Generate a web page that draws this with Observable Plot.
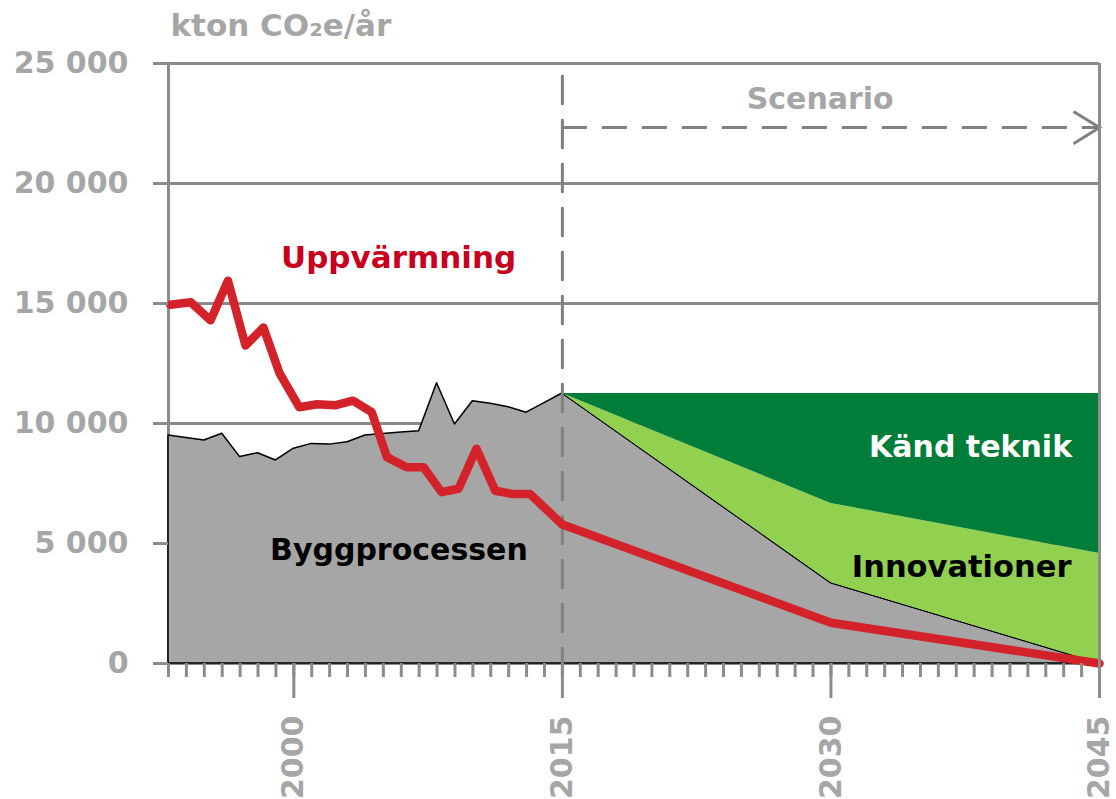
<!DOCTYPE html>
<html><head><meta charset="utf-8">
<script src="https://cdn.jsdelivr.net/npm/d3@7"></script>
<script src="https://cdn.jsdelivr.net/npm/@observablehq/plot@0.6"></script>
<style>
body{margin:0;background:#fff;}
#chart{width:1116px;height:799px;}
</style>
</head><body><div id="chart"></div>
<script>
// ---- data ----
const histYears = [1993,1994,1995,1996,1997,1998,1999,2000,2001,2002,2003,2004,2005,2006,2007,2008,2009,2010,2011,2012,2013,2014,2015];
const byggHist  = [9500,9400,9290,9570,8600,8760,8460,8950,9150,9120,9220,9500,9560,9620,9680,11680,9960,10930,10820,10680,10450,10850,11250];
const scenYears = [2015,2030,2045];
const byggScen  = [11250,3350,0];
const innovTop  = [11250,6670,4580];
const kandTop   = [11250,11250,11250];
const heatYears  = [1993.1,1994.25,1995.35,1996.32,1997.3,1998.3,1999.2,2000.3,2001.3,2002.3,2003.3,2004.35,2005.2,2006.3,2007.25,2008.25,2009.2,2010.2,2011.25,2012.25,2013.2,2015,2030,2045];
const heatValues = [14950,15050,14300,15950,13250,14000,12100,10680,10800,10760,10950,10470,8600,8180,8180,7140,7280,8950,7200,7060,7060,5790,1700,0];
const yTicks = [0,5000,10000,15000,20000,25000];
const yTickLabels = ["0","5 000","10 000","15 000","20 000","25 000"];
const xTicks = [2000,2015,2030,2045];
const xTickLabels = ["2000","2015","2030","2045"];
const minorYears = [1993,1994,1995,1996,1997,1998,1999,2000,2001,2002,2003,2004,2005,2006,2007,2008,2009,2010,2011,2012,2013,2014,2015,2016,2017,2018,2019,2020,2021,2022,2023,2024,2025,2026,2027,2028,2029,2030,2031,2032,2033,2034,2035,2036,2037,2038,2039,2040,2041,2042,2043,2044,2045];
const unitLabel = "kton CO₂e/år";
const scenarioStart = 2015, scenarioEnd = 2045, scenarioArrowY = 22330, dashTop = 24500;
const labels = [
  {text: "Uppvärmning", x: 2005.85, y: 16900, color: "#c8001e", size: 31},
  {text: "Byggprocessen", x: 2005.87, y: 4700, color: "#000000", size: 30},
  {text: "Känd teknik", x: 2037.8, y: 9000, color: "#ffffff", size: 30},
  {text: "Innovationer", x: 2037.3, y: 4000, color: "#000000", size: 30.5},
  {text: "Scenario", x: 2029.4, y: 23500, color: "#a6a6a6", size: 30}
];

// ---- tables ----
const byggRows = histYears.map((year, i) => ({year, value: byggHist[i]}))
  .concat(scenYears.slice(1).map((year, i) => ({year, value: byggScen[i + 1]})));
const scenRows = scenYears.map((year, i) => ({year, bygg: byggScen[i], innov: innovTop[i], kand: kandTop[i]}));
const heatRows = heatYears.map((year, i) => ({year, value: heatValues[i]}));
const yLab = new Map(yTicks.map((t, i) => [t, yTickLabels[i]]));
const xLab = new Map(xTicks.map((t, i) => [t, xTickLabels[i]]));

const gridColor = "#8a8a8a", axisColor = "#8c8c8c", dashColor = "#808080", labelColor = "#a6a6a6";
const font = "DejaVu Sans";

// open chevron ">" whose tip sits at the dot position
const chevron = {
  draw(context, size) {
    const s = Math.sqrt(size);
    context.moveTo(-s, -s * 0.62);
    context.lineTo(0, 0);
    context.lineTo(-s, s * 0.62);
  }
};

const chart = Plot.plot({
  width: 1116, height: 799,
  marginLeft: 168, marginRight: 17, marginTop: 63, marginBottom: 136,
  style: {fontFamily: font, background: "#ffffff"},
  x: {domain: [1993, 2045]},
  y: {domain: [0, 25000]},
  marks: [
    Plot.ruleY(yTicks, {stroke: gridColor, strokeWidth: 3}),
    Plot.ruleX([1993], {stroke: axisColor, strokeWidth: 3}),
    Plot.areaY(byggRows, {x: "year", y: "value", fill: "#a6a6a6", stroke: "#000", strokeWidth: 1.5}),
    Plot.areaY(scenRows, {x: "year", y1: "bygg", y2: "innov", fill: "#92d050"}),
    Plot.areaY(scenRows, {x: "year", y1: "innov", y2: "kand", fill: "#007e39"}),
    Plot.lineY(scenRows, {x: "year", y: "bygg", stroke: "#000", strokeWidth: 1}),
    Plot.ruleX([scenarioStart], {y1: dashTop, y2: 0, stroke: dashColor, strokeWidth: 3, strokeDasharray: "30,14"}),
    Plot.ruleY([scenarioArrowY], {x1: scenarioStart, x2: scenarioEnd - 0.1, stroke: dashColor, strokeWidth: 3, strokeDasharray: "25,15"}),
    Plot.dot([0], {x: () => scenarioEnd, y: () => scenarioArrowY, symbol: chevron, r: 14.7, fill: "none", stroke: dashColor, strokeWidth: 3, strokeLinejoin: "miter"}),
    Plot.line(heatRows, {x: "year", y: "value", stroke: "#d3222a", strokeWidth: 8.5, strokeLinejoin: "round"}),
    Plot.ruleX([2045], {y1: 0, y2: 25000, stroke: axisColor, strokeWidth: 3}),
    Plot.axisY({ticks: yTicks, tickSize: 15, tickPadding: 25, tickFormat: d => yLab.get(d), stroke: axisColor, strokeWidth: 3, fill: labelColor, fontSize: 30, fontWeight: "bold", label: null}),
    Plot.axisX({ticks: minorYears, tickSize: 14, tickFormat: () => "", stroke: axisColor, strokeWidth: 3, label: null}),
    Plot.axisX({ticks: xTicks, tickSize: 35, tickPadding: 17, tickRotate: -90, tickFormat: d => xLab.get(d), stroke: axisColor, strokeWidth: 3, fill: labelColor, fontSize: 30, fontWeight: "bold", label: null}),
    Plot.text([unitLabel], {text: d => d, frameAnchor: "top-left", textAnchor: "start", lineAnchor: "middle", dx: 2, dy: -37, fill: labelColor, fontSize: 31, fontWeight: "bold"}),
    Plot.text(labels, {x: "x", y: "y", text: "text", fill: d => d.color, fontSize: d => d.size, fontWeight: "bold", lineAnchor: "middle"})
  ]
});
document.getElementById("chart").appendChild(chart);
</script>
</body></html>
